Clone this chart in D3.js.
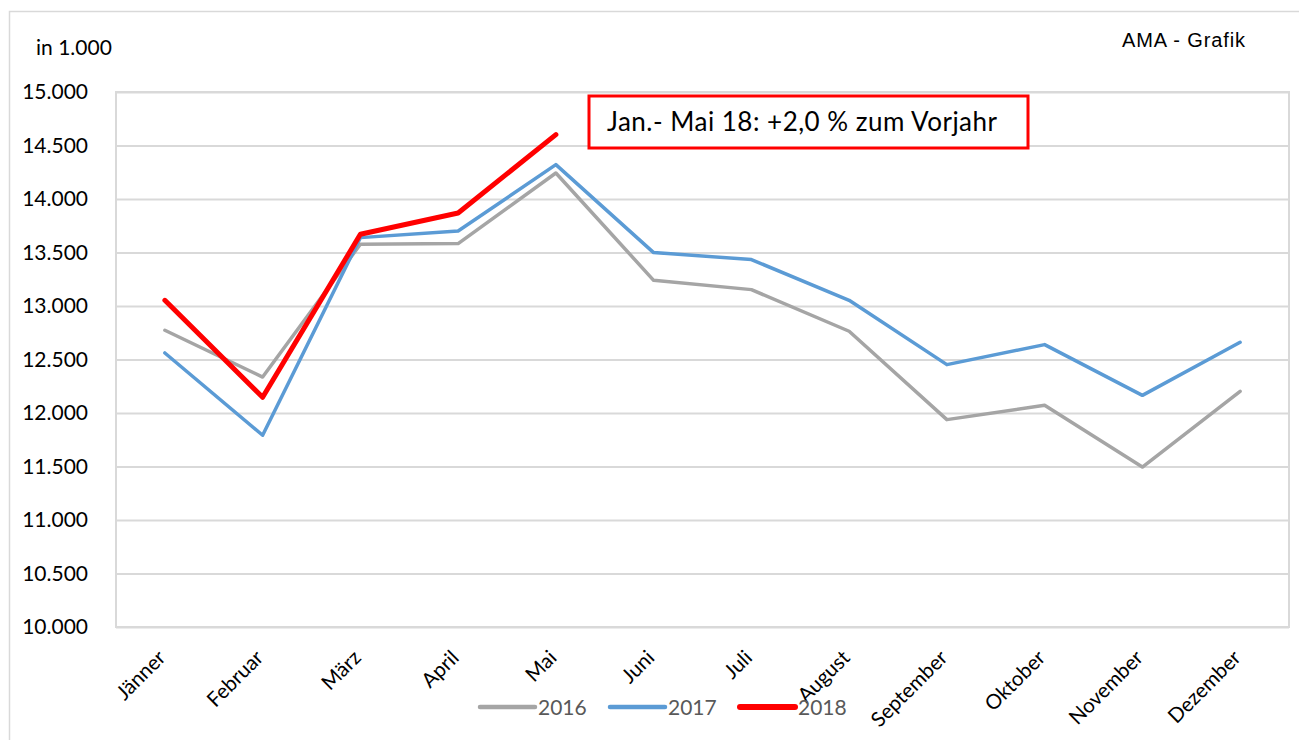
<!DOCTYPE html>
<html>
<head>
<meta charset="utf-8">
<script src="https://cdn.jsdelivr.net/npm/d3@7"></script>
<style>
  html, body { margin: 0; padding: 0; background: #fff; }
  svg { display: block; font-family: Lato, 'Open Sans', sans-serif; }
</style>
</head>
<body>
<div id="chart"></div>
<script>
'use strict';

const months = ['Jänner', 'Februar', 'März', 'April', 'Mai', 'Juni', 'Juli',
  'August', 'September', 'Oktober', 'November', 'Dezember'];
const years = ['2016', '2017', '2018'];
const values2016 = [12773, 12336, 13577, 13583, 14243, 13240, 13153, 12764, 11938, 12072, 11495, 12203];
const values2017 = [12561, 11792, 13639, 13701, 14321, 13499, 13434, 13053, 12452, 12639, 12165, 12661];
const values2018 = [13053, 12147, 13670, 13869, 14602];
const yTicks = [10000, 10500, 11000, 11500, 12000, 12500, 13000, 13500, 14000, 14500, 15000];
const unitLabel = 'in 1.000';
const sourceLabel = 'AMA - Grafik';
const noteLabel = 'Jan.- Mai 18: +2,0 % zum Vorjahr';

const series = [
  { name: years[0], values: values2016, color: '#a5a5a5', width: 3.5 },
  { name: years[1], values: values2017, color: '#5b9bd5', width: 3.5 },
  { name: years[2], values: values2018, color: '#ff0000', width: 5 }
];

const W = 1299, H = 740;
const plot = { left: 116, top: 92, right: 1289, bottom: 627 };

const de = d3.formatLocale({ decimal: ',', thousands: '.', grouping: [3], currency: ['', ' €'] });
const fmt = de.format(',.0f');

const $svg = d3.select('#chart').append('svg')
  .attr('width', W)
  .attr('height', H);

// outer frame (runs off the bottom / right edge like the source)
$svg.append('rect')
  .attr('x', 9.5).attr('y', 11.5)
  .attr('width', W).attr('height', H)
  .attr('fill', 'none')
  .attr('stroke', '#d9d9d9')
  .attr('stroke-width', 1.5);

const x = d3.scaleBand()
  .domain(months)
  .range([plot.left, plot.right]);
const cx = (m) => x(m) + x.bandwidth() / 2;

const y = d3.scaleLinear()
  .domain([10000, 15000])
  .range([plot.bottom, plot.top]);

// grid + y labels
const $yAxis = $svg.append('g')
  .attr('transform', `translate(${plot.left},0)`)
  .call(d3.axisLeft(y)
    .tickValues(yTicks)
    .tickFormat(fmt)
    .tickSize(-(plot.right - plot.left))
    .tickPadding(28));
$yAxis.select('.domain').remove();
$yAxis.selectAll('.tick line')
  .attr('stroke', '#d9d9d9')
  .attr('stroke-width', 2);
$yAxis.selectAll('.tick text')
  .attr('fill', '#000')
  .attr('font-size', 21)
  .attr('font-family', 'Lato, sans-serif');

// plot area border
$svg.append('rect')
  .attr('x', plot.left).attr('y', plot.top)
  .attr('width', plot.right - plot.left)
  .attr('height', plot.bottom - plot.top)
  .attr('fill', 'none')
  .attr('stroke', '#d9d9d9')
  .attr('stroke-width', 2);

// x labels, rotated
const $xAxis = $svg.append('g')
  .attr('transform', `translate(0,${plot.bottom})`)
  .call(d3.axisBottom(x).tickSize(0).tickPadding(0));
$xAxis.select('.domain').remove();
$xAxis.selectAll('.tick text')
  .attr('fill', '#000')
  .attr('font-size', 20.5)
  .attr('font-family', 'Lato, sans-serif')
  .attr('text-anchor', 'end')
  .attr('dy', 0)
  .attr('transform', 'translate(2,32) rotate(-45)');

// lines
const line = d3.line()
  .x((d, i) => cx(months[i]))
  .y((d) => y(d));

$svg.append('g').selectAll('.series')
  .data(series)
  .enter()
  .append('path')
  .attr('class', 'series')
  .attr('d', (d) => line(d.values))
  .attr('fill', 'none')
  .attr('stroke', (d) => d.color)
  .attr('stroke-width', (d) => d.width)
  .attr('stroke-linejoin', 'round')
  .attr('stroke-linecap', 'round');

// legend
const legendX = [480, 610, 740];
const $legend = $svg.append('g').selectAll('.legend')
  .data(series)
  .enter()
  .append('g')
  .attr('class', 'legend')
  .attr('transform', (d, i) => `translate(${legendX[i]},707)`);
$legend.append('line')
  .attr('x1', 0).attr('x2', 55)
  .attr('stroke', (d) => d.color)
  .attr('stroke-width', (d) => d.width + 1)
  .attr('stroke-linecap', 'round');
$legend.append('text')
  .attr('x', 58)
  .attr('dy', '0.36em')
  .attr('font-size', 21)
  .attr('fill', '#595959')
  .text((d) => d.name);

// texts
$svg.append('text')
  .attr('x', 36).attr('y', 55)
  .attr('font-size', 21)
  .text(unitLabel);

$svg.append('text')
  .attr('x', 1122).attr('y', 47)
  .attr('font-family', "'Liberation Sans', Arial, sans-serif")
  .attr('font-size', 20)
  .attr('textLength', 123)
  .text(sourceLabel);

// annotation box
$svg.append('rect')
  .attr('x', 589).attr('y', 96)
  .attr('width', 439).attr('height', 52)
  .attr('fill', '#fff')
  .attr('stroke', '#ff0000')
  .attr('stroke-width', 3);
$svg.append('text')
  .attr('x', 607).attr('y', 131)
  .attr('font-size', 26)
  .attr('textLength', 390)
  .text(noteLabel);
</script>
</body>
</html>
